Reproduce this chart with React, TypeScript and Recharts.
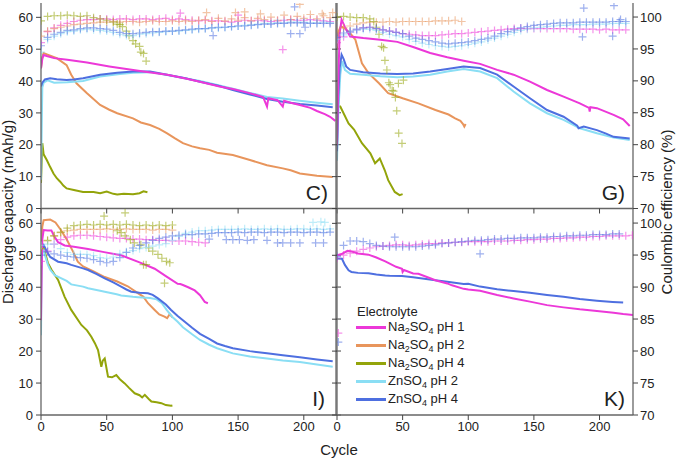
import React from 'react';
import { ComposedChart, Line, Scatter, XAxis, YAxis } from 'recharts';

type Pair = [number, number];

const FONT = '"Liberation Sans", Arial, Helvetica, sans-serif';

// electrolytes, same order in every panel
const seriesNames = ['Na2SO4 pH 1', 'Na2SO4 pH 2', 'Na2SO4 pH 4', 'ZnSO4 pH 2', 'ZnSO4 pH 4'];
const seriesColors = ['#ec38d8', '#e8955c', '#93a40a', '#8adef4', '#4e6fe0'];

const cycleTicks = [0, 50, 100, 150, 200];
const capacityTicks = [0, 10, 20, 30, 40, 50, 60];
const ceTicks = [70, 75, 80, 85, 90, 95, 100];

// coulombic efficiency is read every 5 cycles
const ceCycles = [0, 5, 10, 15, 20, 25, 30, 35, 40, 45, 50, 55, 60, 65, 70, 75, 80, 85, 90, 95, 100, 105, 110, 115,
  120, 125, 130, 135, 140, 145, 150, 155, 160, 165, 170, 175, 180, 185, 190, 195, 200, 205, 210, 215, 220, 225];

// ---- panel C) discharge capacity [cycle, mAh/g]
const capC_na1: Pair[] = [[0, 44], [1, 47], [2, 48.2], [5, 47.8], [10, 47.2], [20, 46.7], [35, 45.8], [52, 44.6], [65, 43.8], [78, 43], [96, 42], [110, 40.8], [121, 39.8], [135, 38.4], [146, 37.5], [158, 36.3], [169, 35], [171, 33], [172, 32], [173, 34.6], [180, 34], [184, 32], [185, 33.8], [190, 33.2], [197, 32.5], [205, 31.6], [210, 30.6], [216, 29.6], [220, 28.8], [224, 27.5]];
const capC_na2: Pair[] = [[0, 44], [1, 47.5], [2, 48.8], [5, 48.3], [12, 47.2], [19.5, 45], [23, 42], [27, 39.3], [35, 36.2], [45, 32.5], [52, 31], [58, 29.9], [70, 28.3], [76, 27], [83, 26.2], [90, 25], [96, 23.6], [102, 22], [108, 20.5], [115, 19.5], [121, 18.9], [128, 18.4], [134, 17.5], [146, 16.8], [159, 15.2], [172, 13.6], [184, 12.6], [190, 12], [197, 11], [210, 10.3], [222, 9.9]];
const capC_na4: Pair[] = [[0, 8], [1, 20.5], [2, 17], [4.4, 15.2], [7, 13], [9.5, 11], [12, 9.5], [14.6, 8.4], [17, 7.2], [19.5, 6.3], [25, 5.8], [32, 5.2], [40, 5.2], [45, 4.8], [50, 5.3], [55, 4.6], [58, 4.4], [63, 4.6], [70, 4.5], [75, 4.8], [78, 5.4], [81, 5.1]];
const capC_zn2: Pair[] = [[0, 9], [0.7, 30], [1, 38], [2, 39.5], [5, 40.2], [10, 39.5], [20, 39.6], [32, 40], [45, 41.4], [60, 42.2], [70, 42.6], [83, 42.8], [96, 41.9], [110, 40.8], [121, 40], [135, 38.7], [146, 37.6], [159, 36.3], [172, 35], [184, 34.5], [197, 33.8], [210, 33.2], [222, 32.7]];
const capC_zn4: Pair[] = [[0, 38.3], [1, 39.5], [3, 40.5], [7, 40.9], [12, 40.6], [19.5, 40.3], [25, 40.5], [32, 40.9], [45, 42], [58, 42.6], [70, 43], [83, 43], [96, 42], [110, 40.9], [121, 39.8], [135, 38.5], [146, 37.2], [159, 35.8], [172, 34.4], [184, 33.5], [197, 32.8], [210, 32.3], [222, 31.8]];

// ---- panel C) coulombic efficiency [%]
const ceC_na1 = [96.0, 97.7, 98.3, 98.7, 99.0, 99.3, 99.5, 99.6, 99.6, 99.7, 99.7, 99.6, 99.7, 99.7, 99.6, 99.7, 99.7, 99.6, 99.7, 99.8, 99.6, 99.7, 99.6, 99.5, 99.4, 99.5, 99.4, 99.4, 99.3, 99.2, 99.3, 99.5, 99.4, 99.5, 99.4, 99.3, 99.4, 99.5, 99.6, 99.5, 99.5, 99.6, 99.5, 99.4, 99.3];
const ceC_na2 = [97.0, 97.8, 98.2, 98.4, 98.6, 98.8, 98.9, 99.0, 99.1, 99.2, 99.2, 99.3, 99.2, 99.3, 99.3, 99.2, 99.3, 99.4, 99.3, 99.3, 99.4, 99.3, 99.4, 99.3, 99.5, 99.6, 99.3, 99.8, 99.4, 99.7, 99.5, 99.9, 99.4, 99.8, 99.6, 100.0, 99.5, 100.3, 99.6, 100.1, 99.8, 100.4, 99.7, 100.2, 99.9];
const ceC_na4 = [99.4, 100.1, 100.2, 100.2, 100.3, 100.2, 100.1, 100.2, 99.9, 99.7, 99.5, 99.2, 98.8, 97.8, 96.3, 95.4, 93.1];
const ceC_zn2 = [94.5, 96.5, 97.0, 97.4, 97.7, 97.8, 98.0, 98.1, 98.0, 97.9, 97.8, 97.6, 97.3, 97.1, 97.1, 97.3, 97.4, 97.5, 97.6, 97.7, 97.8, 97.8, 97.9, 98.0, 98.1, 98.2, 98.3, 98.3, 98.4, 98.5, 98.6, 98.7, 98.8, 98.9, 99.0, 99.0, 99.1, 99.1, 99.2, 99.2, 99.2, 99.1, 99.1, 99.2, 99.1];
const ceC_zn4 = [95.5, 96.8, 97.3, 97.6, 97.9, 98.0, 98.2, 98.3, 98.3, 98.2, 98.1, 97.9, 97.6, 97.4, 97.4, 97.5, 97.6, 97.7, 97.7, 97.8, 97.8, 97.9, 98.0, 98.1, 98.2, 98.2, 98.3, 98.4, 98.4, 98.5, 98.6, 98.6, 98.7, 98.8, 98.9, 98.9, 99.0, 99.0, 99.1, 99.1, 99.1, 99.0, 99.0, 99.0, 99.0];
const ceXC_na1: Pair[] = [[106, 100.6], [150, 100.3], [184, 94.9]];
const ceXC_na2: Pair[] = [[126, 100.7], [148, 100.7], [155, 100.8], [167, 100.5], [197, 102.0], [214, 100.5], [222, 100.7]];
const ceXC_na4: Pair[] = [[58, 98.9], [62, 98.5], [67, 97.1], [72, 95.8], [76, 94.5], [78, 94.3]];
const ceXC_zn4: Pair[] = [[131, 97.1], [190, 97.4], [197, 97.4], [193, 101.6], [201, 98.4]];

// ---- panel G)
const capG_na1: Pair[] = [[0, 20], [1, 40], [2, 55], [3.5, 59.3], [6, 57], [10, 54], [20, 53.5], [33, 53], [46, 52.3], [58, 50.7], [71, 48.8], [84, 47.5], [96.5, 46.4], [109, 45.4], [122, 43.5], [134.5, 42], [147, 39.8], [160, 37.2], [172.6, 35.1], [185, 33], [192, 31.6], [192.5, 30.4], [193, 31.8], [198, 31.5], [210.7, 29.4], [218, 28], [223, 25.9]];
const capG_na2: Pair[] = [[0, 50], [1, 55.5], [3, 57.2], [6, 56.5], [10, 55], [14, 53], [19, 45.6], [24, 42.5], [32, 39.3], [39, 36.2], [50, 34.6], [62, 33], [75, 30.9], [85, 29.5], [90, 28.3], [94, 27.5], [96, 26.5], [97, 25.7], [98, 26.5]];
const capG_na4: Pair[] = [[0, 32], [2.5, 32], [8.8, 26.7], [13, 24.8], [19, 20.5], [25.4, 17.3], [29, 14.2], [32.6, 15.7], [36.4, 12], [39, 8.9], [44, 5.2], [47.7, 4.2], [50, 4.5]];
const capG_zn2: Pair[] = [[0, 15], [1, 30], [2.5, 42], [4, 46.3], [6, 43.5], [10, 42.3], [20, 42], [33, 41.5], [46, 41.2], [58, 41.4], [71, 42.0], [84, 43.0], [96.5, 43.8], [109, 43], [122, 40.9], [134.5, 36.7], [147, 33], [160, 29.9], [172.6, 27.8], [185, 25.2], [198, 23.6], [210.7, 22.3], [223, 21.5]];
const capG_zn4: Pair[] = [[0, 18], [1, 35], [2, 44], [3.5, 48.3], [5, 47], [7, 44.6], [10, 43.5], [20, 42.8], [33, 42.4], [46, 42.2], [58, 42.4], [71, 43], [84, 43.8], [96.5, 44.6], [109, 44.1], [122, 42], [134.5, 38.3], [147, 34.6], [160, 30.9], [172.6, 28.8], [183, 26], [184, 25.2], [188, 25.7], [198, 24.6], [205, 23.5], [210.7, 22.5], [223, 22]];

const ceG_na1 = [96.0, 96.9, 97.6, 98.0, 98.3, 98.4, 98.2, 98.0, 97.8, 97.6, 97.4, 97.3, 97.2, 97.1, 97.1, 97.1, 97.2, 97.3, 97.4, 97.4, 97.5, 97.6, 97.7, 97.8, 97.9, 98.0, 98.1, 98.2, 98.2, 98.2, 98.2, 98.2, 98.2, 98.2, 98.2, 98.2, 98.1, 98.1, 98.1, 98.1, 98.0, 98.1, 98.0, 98.0, 98.0];
const ceG_na2 = [97.8, 98.3, 98.6, 98.9, 99.1, 99.2, 99.2, 99.2, 99.3, 99.2, 99.3, 99.3, 99.3, 99.3, 99.3, 99.4, 99.4, 99.4, 99.5, 99.3];
const ceG_na4 = [100.0, 100.1, 100.0, 99.9, 99.9, 99.7];
const ceG_zn2 = [96.5, 97.2, 97.6, 97.9, 98.1, 98.1, 97.9, 97.6, 97.3, 97.1, 96.9, 96.5, 96.2, 95.9, 95.7, 95.5, 95.4, 95.3, 95.4, 95.5, 95.7, 95.9, 96.1, 96.4, 96.7, 97.0, 97.3, 97.6, 97.9, 98.1, 98.3, 98.4, 98.5, 98.6, 98.7, 98.7, 98.8, 98.8, 98.8, 98.9, 98.9, 98.9, 99.0, 99.0, 99.0];
const ceG_zn4 = [96.8, 97.5, 97.8, 98.1, 98.3, 98.4, 98.2, 98.0, 97.8, 97.6, 97.4, 97.0, 96.7, 96.5, 96.3, 96.1, 95.9, 95.8, 95.9, 96.0, 96.1, 96.3, 96.5, 96.7, 97.0, 97.4, 97.7, 98.0, 98.3, 98.5, 98.7, 98.8, 98.9, 99.0, 99.1, 99.1, 99.1, 99.2, 99.2, 99.2, 99.2, 99.2, 99.3, 99.3, 99.3];
const ceXG_na4: Pair[] = [[28, 99.3], [30, 98.4], [32, 97.3], [34, 95.4], [35.5, 95.2], [36.5, 93.2], [38, 91.7], [39.5, 89.7], [40.5, 89.4], [42, 88.5], [43, 88.4], [44.5, 87.4], [45.5, 85.3], [47, 81.8], [49.5, 80.2], [46.8, 89.6], [50.6, 90.1]];
const ceXG_zn4: Pair[] = [[188, 101.4], [187, 96.9], [210, 97.0], [211, 101.8], [216, 99.6]];

// ---- panel I)
const capI_na1: Pair[] = [[0, 29.7], [0.5, 45], [1, 55], [2, 57.9], [5, 57.8], [7.9, 57.8], [10, 56], [13, 54.1], [18, 53.1], [25, 52.7], [35.8, 52], [48, 51], [61, 50], [75, 47.8], [86.5, 45.8], [95, 43.5], [104, 41.1], [106, 41], [108, 40.7], [112, 40], [117, 39], [121, 37.5], [124.6, 35.4], [127, 35]];
const capI_na2: Pair[] = [[0, 52], [1, 59], [2, 61], [7, 61.2], [11, 60.3], [15, 58], [19.5, 55], [24.6, 51], [28, 48], [32, 46.5], [40, 45], [48.5, 43.2], [58, 41.8], [66, 40.3], [74, 38.1], [78, 37], [81.4, 35], [86.5, 32.9], [90, 31.5], [94, 30.8], [96, 30.3], [98, 31.6], [100, 30.6]];
const capI_na4: Pair[] = [[0, 50], [1, 53], [3, 51], [5.3, 47.5], [8, 45.5], [13, 42.3], [18, 37], [23, 32.9], [30.7, 28.2], [35, 26.5], [38.3, 24.5], [41, 22.5], [43.4, 20.3], [45.9, 15.1], [47, 17], [48.5, 17.7], [51, 12], [54, 11.8], [57.3, 12.5], [60, 11.2], [63.7, 9.9], [67, 8.5], [71.3, 6.8], [75, 6.2], [77, 5.5], [79, 6.3], [82, 5], [84, 4.2], [88, 4], [91.6, 3.7], [95, 3.1], [99, 2.9], [100, 3]];
const capI_zn2: Pair[] = [[0, 25], [0.5, 45], [1, 52], [2, 52], [3, 50], [5.3, 47], [7, 45.5], [10.4, 43.8], [19.5, 42], [23, 40.9], [32, 40.2], [35.8, 39.7], [45, 38.9], [48.5, 38.6], [57.6, 37.8], [61, 37.4], [70, 37], [73.8, 36.9], [83, 36.6], [88, 36.2], [92, 35], [95.6, 32.9], [100, 30.7], [104, 29.2], [108, 27.5], [115, 25.3], [121, 23.5], [128, 22], [134, 20.9], [146, 19.3], [159, 18.3], [172, 17.7], [184, 17.1], [197, 16.6], [210, 15.8], [222, 15.1]];
const capI_zn4: Pair[] = [[0, 45], [0.5, 50], [1, 53.5], [2, 53.3], [4, 51.5], [7, 49.5], [13, 48], [19.5, 47.5], [23, 47], [32, 45.9], [35.8, 45.4], [42, 44.2], [48.5, 42.8], [55, 41.5], [61, 40.2], [65, 39.3], [68.7, 38.6], [75, 38.3], [81.4, 38.1], [85, 37.6], [89, 36.5], [95, 34.6], [99, 32.9], [104, 31], [109.4, 29.2], [115, 27.3], [121, 25.4], [128, 23.8], [134, 22.4], [140, 21.6], [146, 20.9], [159, 20], [172, 19.3], [184, 18.7], [197, 18.1], [210, 17.4], [222, 16.8]];

const ceI_na1 = [94.0, 95.6, 96.7, 97.4, 97.8, 98.0, 98.1, 98.1, 98.0, 97.9, 97.8, 97.7, 97.6, 97.6, 97.5, 97.5, 97.4, 97.4, 97.3, 97.3, 97.2, 97.2, 97.2, 97.1, 97.0, 96.9];
const ceI_na2 = [96.0, 97.2, 98.0, 98.5, 98.8, 98.9, 99.0, 99.0, 99.0, 99.0, 99.1, 99.0, 99.0, 99.1, 99.0, 99.0, 99.0, 98.9, 99.0, 99.0, 98.9];
const ceI_na4 = [96.0, 97.3, 98.0, 98.6, 99.2, 99.6, 99.7, 99.8, 99.7, 99.8, 99.7, 99.8, 99.7, 99.8, 99.7, 99.6, 99.7, 99.6, 99.7, 99.6, 99.7];
const ceI_zn2 = [96.5, 96.7, 96.7, 96.0, 95.4, 95.1, 95.1, 95.1, 94.9, 94.6, 94.5, 94.7, 95.2, 95.5, 95.7, 96.0, 96.2, 96.4, 96.6, 96.8, 97.3, 97.9, 98.4, 98.6, 98.8, 98.8, 98.9, 99.0, 99.0, 99.0, 99.0, 99.1, 99.0, 99.0, 99.1, 99.0, 99.1, 99.0, 99.0, 99.1, 99.1, 99.0, 99.1, 99.0, 99.1];
const ceI_zn4 = [95.0, 95.5, 95.2, 95.0, 94.8, 94.7, 94.6, 94.5, 94.3, 94.0, 93.8, 94.0, 94.6, 95.4, 96.1, 96.5, 96.9, 97.3, 97.6, 97.8, 98.0, 98.1, 98.2, 98.2, 98.3, 98.3, 98.4, 98.5, 98.5, 98.5, 98.6, 98.5, 98.6, 98.6, 98.5, 98.6, 98.6, 98.5, 98.6, 98.6, 98.5, 98.6, 98.6, 98.5, 98.6];
const ceXI_na4: Pair[] = [[58, 98.8], [61, 98.5], [64, 98.0], [68, 97.4], [71, 96.9], [76, 96.6], [78, 93.5], [80, 93.5], [82, 96.1], [85, 95.6], [89, 95.1], [92, 94.5], [94, 90.6], [95.5, 94.0], [98, 93.8], [48, 101.1], [64, 101.6]];
const ceXI_zn2: Pair[] = [[207, 100.1], [213, 100.2], [216, 100.1]];
const ceXI_zn4: Pair[] = [[128, 97.5], [141, 97.4], [146, 97.4], [151, 97.4], [157, 97.3], [162, 97.4], [172, 97.3], [180, 96.9], [184, 96.9], [190, 96.9], [197, 96.9], [209, 96.9], [215, 96.9]];

// ---- panel K)
const capK_na1: Pair[] = [[0, 50], [4, 50.5], [8, 51.4], [11.4, 51.2], [16, 50.6], [24, 50.2], [30, 49.3], [36.8, 48.1], [45, 46.4], [49.5, 45.8], [50, 44.8], [51, 45.4], [58, 44.3], [62, 44.2], [71, 42.8], [74.9, 42.2], [84, 41.2], [87.6, 40.6], [96.5, 39.5], [100, 39.3], [109, 38.9], [122, 37.6], [134.5, 36.5], [147, 35.5], [160, 34.4], [172.6, 33.7], [185, 33.1], [198, 32.6], [210.7, 32], [218, 31.6], [226, 31.3]];
const capK_zn4: Pair[] = [[0, 49], [3.8, 48.9], [6, 47], [8.8, 45.3], [11, 44.8], [16, 44.5], [24, 44.4], [30, 44], [36.8, 43.7], [40, 43.6], [49.5, 43.5], [58, 43.1], [74.9, 42.2], [84, 41.7], [96.5, 41], [100, 41.1], [109, 40.2], [122, 39.4], [134.5, 38.8], [147, 38.3], [160, 37.6], [172.6, 37], [185, 36.3], [198, 35.8], [210, 35.4], [218, 35.2]];

const ceK_na1 = [94.5, 95.0, 95.3, 95.6, 95.9, 96.1, 96.3, 96.4, 96.5, 96.6, 96.6, 96.5, 96.6, 96.7, 96.8, 96.8, 96.9, 96.9, 97.0, 97.0, 97.1, 97.1, 97.1, 97.1, 97.2, 97.2, 97.2, 97.3, 97.3, 97.4, 97.4, 97.5, 97.5, 97.6, 97.6, 97.7, 97.7, 97.8, 97.8, 97.9, 97.9, 98.0, 98.0, 98.0, 98.0, 98.1];
const ceK_zn4 = [94.8, 96.5, 97.2, 97.2, 97.1, 96.8, 96.5, 96.4, 96.3, 96.3, 96.3, 96.3, 96.3, 96.4, 96.5, 96.6, 96.8, 96.9, 97.0, 97.1, 97.2, 97.3, 97.3, 97.4, 97.5, 97.5, 97.6, 97.6, 97.7, 97.7, 97.7, 97.8, 97.8, 97.9, 97.9, 98.0, 98.0, 98.1, 98.1, 98.2, 98.2, 98.2, 98.3, 98.3];
const ceXK_na1: Pair[] = [[1, 82.8]];
const ceXK_zn4: Pair[] = [[1, 81.4], [44, 97.8], [109, 95.2]];

const pairsToPts = (d: Pair[]) => d.map(([x, y]) => ({ x, y }));
const ceToPts = (v: number[]) => v.map((y, i) => ({ x: ceCycles[i], y }));

type PanelDef = {
  tag: string; tagX: number; tagY: number;
  left: number; top: number; plotW: number; plotH: number; xMax: number;
  side: 'left' | 'right'; bottom: boolean;
  cap: (Pair[] | null)[]; ce: (number[] | null)[]; ceExtra: (Pair[] | null)[];
};

const panels: PanelDef[] = [
  { tag: 'C)', tagX: 328, tagY: 199.5, left: 0, top: 3, plotW: 295, plotH: 205.5, xMax: 224.5, side: 'left', bottom: false,
    cap: [capC_na1, capC_na2, capC_na4, capC_zn2, capC_zn4], ce: [ceC_na1, ceC_na2, ceC_na4, ceC_zn2, ceC_zn4],
    ceExtra: [ceXC_na1, ceXC_na2, ceXC_na4, null, ceXC_zn4] },
  { tag: 'G)', tagX: 625, tagY: 199.5, left: 327, top: 3, plotW: 296, plotH: 205.5, xMax: 225.5, side: 'right', bottom: false,
    cap: [capG_na1, capG_na2, capG_na4, capG_zn2, capG_zn4], ce: [ceG_na1, ceG_na2, ceG_na4, ceG_zn2, ceG_zn4],
    ceExtra: [null, null, ceXG_na4, null, ceXG_zn4] },
  { tag: 'I)', tagX: 325, tagY: 406, left: 0, top: 209, plotW: 295, plotH: 206, xMax: 224.5, side: 'left', bottom: true,
    cap: [capI_na1, capI_na2, capI_na4, capI_zn2, capI_zn4], ce: [ceI_na1, ceI_na2, ceI_na4, ceI_zn2, ceI_zn4],
    ceExtra: [null, null, ceXI_na4, ceXI_zn2, ceXI_zn4] },
  { tag: 'K)', tagX: 625, tagY: 406, left: 327, top: 209, plotW: 296, plotH: 206, xMax: 225.5, side: 'right', bottom: true,
    cap: [capK_na1, null, null, null, capK_zn4], ce: [ceK_na1, null, null, null, ceK_zn4],
    ceExtra: [ceXK_na1, null, null, null, ceXK_zn4] },
];

const lineOrder = [1, 2, 3, 4, 0];

const plusShape = (color: string) => (props: any) => {
  const { cx, cy } = props;
  if (typeof cx !== 'number' || typeof cy !== 'number') return <g />;
  return (
    <path d={`M${cx - 4} ${cy}H${cx + 4}M${cx} ${cy - 4}V${cy + 4}`}
      stroke={color} strokeOpacity={0.55} strokeWidth={1.2} fill="none" />
  );
};

const axisLine = { stroke: '#666', strokeWidth: 1.3 };
const tickLine = { stroke: '#444', strokeWidth: 1 };
const tickStyle = { fontSize: 13, fill: '#222', fontFamily: FONT };
const blank = () => '';

function Panel({ p }: { p: PanelDef }) {
  const isLeft = p.side === 'left';
  const wL = isLeft ? 41 : 10;
  const wR = isLeft ? 10 : 47;
  const hX = p.bottom ? 30 : 14;
  return (
    <div style={{ position: 'absolute', left: p.left, top: p.top }}>
      <ComposedChart width={wL + p.plotW + wR} height={p.plotH + hX} margin={{ top: 0, right: 0, bottom: 0, left: 0 }}>
        <XAxis xAxisId="b" type="number" dataKey="x" domain={[0, p.xMax]} allowDataOverflow ticks={cycleTicks}
          interval={0} height={hX} tickSize={5} tickMargin={2} axisLine={axisLine} tickLine={tickLine}
          tick={tickStyle} tickFormatter={p.bottom ? undefined : blank} />
        <XAxis xAxisId="t" orientation="top" type="number" dataKey="x" domain={[0, p.xMax]} allowDataOverflow
          height={0} tick={false} tickLine={false} axisLine={axisLine} />
        <YAxis yAxisId="cap" orientation="left" type="number" domain={[0, 64.5]} allowDataOverflow ticks={capacityTicks}
          interval={0} width={wL} tickSize={5} tickMargin={3} axisLine={axisLine} tickLine={tickLine}
          tick={tickStyle} tickFormatter={isLeft ? undefined : blank} />
        <YAxis yAxisId="ce" orientation="right" type="number" domain={[70, 102.2]} allowDataOverflow ticks={ceTicks}
          interval={0} width={wR} tickSize={5} tickMargin={2} axisLine={axisLine} tickLine={tickLine}
          tick={tickStyle} tickFormatter={isLeft ? blank : undefined} />
        {p.ce.map((v, i) => {
          if (!v) return null;
          const pts = [...ceToPts(v), ...pairsToPts(p.ceExtra[i] || [])];
          return (
            <Scatter key={`ce${i}`} xAxisId="b" yAxisId="ce" data={pts} dataKey="y"
              shape={plusShape(seriesColors[i])} isAnimationActive={false} />
          );
        })}
        {lineOrder.map((i) => {
          const d = p.cap[i];
          if (!d) return null;
          return (
            <Line key={`cap${i}`} xAxisId="b" yAxisId="cap" data={pairsToPts(d)} dataKey="y" type="linear"
              stroke={seriesColors[i]} strokeWidth={2} dot={false} activeDot={false} isAnimationActive={false} />
          );
        })}
      </ComposedChart>
    </div>
  );
}

function formula(text: string) {
  const out: React.ReactNode[] = [];
  let buf = '';
  for (let i = 0; i < text.length; i++) {
    const ch = text[i];
    if (/\d/.test(ch) && i > 0 && /[A-Za-z]/.test(text[i - 1])) {
      if (buf) out.push(buf);
      buf = '';
      out.push(<span key={i} style={{ fontSize: 9, position: 'relative', top: 3 }}>{ch}</span>);
    } else {
      buf += ch;
    }
  }
  if (buf) out.push(buf);
  return out;
}

function Legend() {
  return (
    <div style={{ position: 'absolute', left: 356, top: 302.7, fontFamily: FONT, fontSize: 13, color: '#222' }}>
      <div style={{ position: 'absolute', left: 1, top: 0, height: 18, lineHeight: '18px', whiteSpace: 'nowrap' }}>Electrolyte</div>
      {seriesNames.map((name, i) => (
        <div key={name} style={{ position: 'absolute', left: 0, top: 15.6 + 18 * i, height: 18, display: 'flex', alignItems: 'center', whiteSpace: 'nowrap' }}>
          <div style={{ width: 30, height: 2.5, background: seriesColors[i], marginRight: 2 }} />
          <span style={{ lineHeight: '18px' }}>{formula(name)}</span>
        </div>
      ))}
    </div>
  );
}

export default function App() {
  return (
    <div style={{ position: 'absolute', left: 0, top: 0, width: 680, height: 460, background: '#fff', overflow: 'hidden', fontFamily: FONT }}>
      {panels.map((p) => <Panel key={p.tag} p={p} />)}
      <svg width={680} height={460} style={{ position: 'absolute', left: 0, top: 0, pointerEvents: 'none' }}>
        {panels.map((p) => (
          <text key={p.tag} x={p.tagX} y={p.tagY} textAnchor="end" fontSize={21} fill="#222" fontFamily={FONT}>{p.tag}</text>
        ))}
        <text x={13} y={212} transform="rotate(-90 13 212)" textAnchor="middle" fontSize={15} fill="#222" fontFamily={FONT}>
          Discharge capacity (mAh/g)
        </text>
        <text x={672} y={212} transform="rotate(-90 672 212)" textAnchor="middle" fontSize={15} fill="#222" fontFamily={FONT}>
          Coulombic efficiency (%)
        </text>
        <text x={339} y={455} textAnchor="middle" fontSize={15} fill="#222" fontFamily={FONT}>Cycle</text>
      </svg>
      <Legend />
    </div>
  );
}
